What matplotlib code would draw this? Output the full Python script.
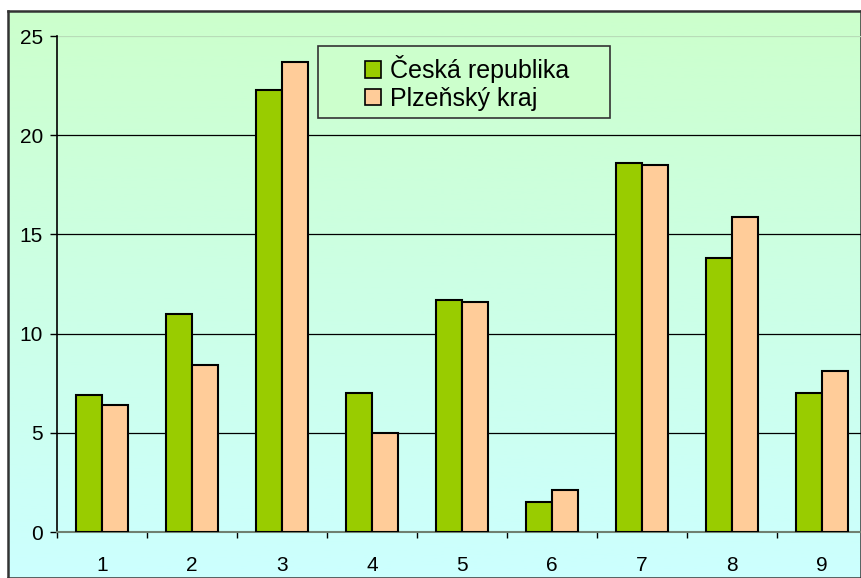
import matplotlib
matplotlib.use("Agg")
import matplotlib.pyplot as plt
import numpy as np
from matplotlib.patches import Rectangle

categories = ["1", "2", "3", "4", "5", "6", "7", "8", "9"]
cr_values = [6.9, 11.0, 22.3, 7.0, 11.7, 1.5, 18.6, 13.8, 7.0]
pk_values = [6.4, 8.4, 23.7, 5.0, 11.6, 2.1, 18.5, 15.9, 8.1]
series_names = ["Česká republika", "Plzeňský kraj"]
yticks = [0, 5, 10, 15, 20, 25]

plt.rcParams['font.family'] = ['Liberation Sans', 'DejaVu Sans']

W, H = 861, 578
fig = plt.figure(figsize=(W / 100, H / 100), dpi=100)
fig.patch.set_facecolor("white")

# gradient chart area background
bg = fig.add_axes([8 / W, 0, 1 - 8 / W, (H - 11) / H], zorder=0)
grad = np.linspace(0, 1, 256).reshape(-1, 1)
top = np.array([0xCC, 0xFF, 0xCC]) / 255
bot = np.array([0xCC, 0xFF, 0xFF]) / 255
img = top[None, None, :] * (1 - grad[:, :, None]) + bot[None, None, :] * grad[:, :, None]
bg.imshow(img, aspect="auto", extent=[0, 1, 0, 1], origin="upper")
bg.set_xlim(0, 1)
bg.set_ylim(0, 1)
bg.set_xticks([])
bg.set_yticks([])
for s in bg.spines.values():
    s.set_color("#333333")
    s.set_linewidth(1.8)

ax = fig.add_axes([57 / W, (H - 532) / H, (867 - 57) / W, (532 - 36) / H], zorder=1)
ax.patch.set_alpha(0)

x = np.arange(1, len(categories) + 1)
bw = 0.29
ax.bar(x - bw / 2, cr_values, width=bw, color="#99CC00", edgecolor="black",
       linewidth=1.5, label=series_names[0], zorder=3)
ax.bar(x + bw / 2, pk_values, width=bw, color="#FFCC99", edgecolor="black",
       linewidth=1.5, label=series_names[1], zorder=3)

ax.set_xlim(0.5, len(categories) + 0.5)
ax.set_ylim(0, 25)

for yv in yticks[1:-1]:
    ax.axhline(yv, color="black", linewidth=0.9, zorder=1)
ax.axhline(25, color="#B8DDB8", linewidth=0.9, zorder=1)

ax.set_yticks(yticks)
ax.set_yticklabels([str(v) for v in yticks], fontsize=15)
ax.set_xticks(x)
ax.set_xticklabels(categories, fontsize=15)
ax.set_xticks(np.arange(0.5, len(categories) + 1.5, 1), minor=True)
ax.tick_params(axis="x", which="major", length=0, pad=17)
ax.tick_params(axis="x", which="minor", length=4, width=1, direction="out", color="black")
ax.tick_params(axis="y", length=5, width=1, direction="out", pad=5)

for side in ["top", "right"]:
    ax.spines[side].set_visible(False)
ax.spines["left"].set_color("black")
ax.spines["left"].set_linewidth(1.2)
ax.spines["bottom"].set_color("#708070")
ax.spines["bottom"].set_linewidth(1.5)

# legend box drawn in figure pixel coordinates
box = Rectangle((318 / W, (H - 118) / H), (610 - 318) / W, (118 - 46) / H,
                transform=fig.transFigure, facecolor="#CCFFCC", edgecolor="#333333",
                linewidth=1.2, zorder=4)
fig.add_artist(box)
leg = fig.legend(*ax.get_legend_handles_labels(), loc="center",
                 bbox_to_anchor=(467 / W, (H - 83) / H),
                 fontsize=18, frameon=False, handlelength=0.64, handleheight=0.64,
                 handletextpad=0.36, borderpad=0, labelspacing=0.15, borderaxespad=0)
leg.set_zorder(5)
for h in leg.legend_handles:
    h.set_linewidth(1.2)

fig.savefig("out.png", dpi=100)
